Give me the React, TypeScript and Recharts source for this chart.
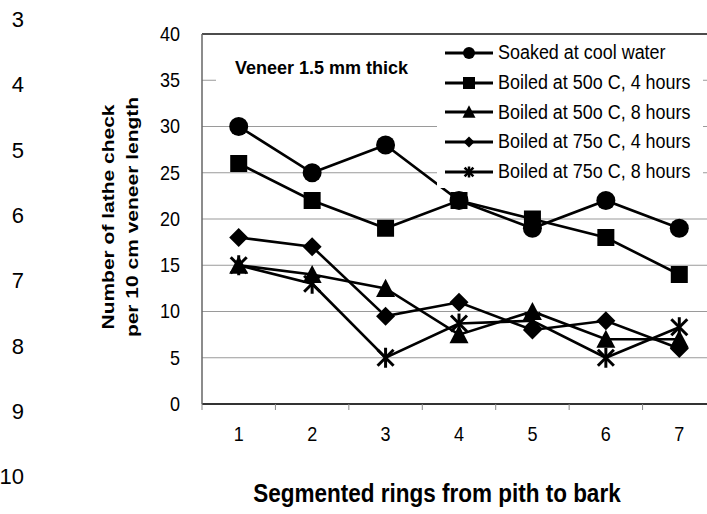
import React from "react";
import { LineChart, Line, XAxis, YAxis, CartesianGrid, Legend, ReferenceLine, Label } from "recharts";

const categories = [1, 2, 3, 4, 5, 6, 7];
const soaked = [30, 25, 28, 22, 19, 22, 19];
const boiled50h4 = [26, 22, 19, 22, 20, 18, 14];
const boiled50h8 = [15, 14, 12.5, 7.5, 10, 7, 7];
const boiled75h4 = [18, 17, 9.5, 11, 8, 9, 6];
const boiled75h8 = [15, 13, 5, 8.7, 9, 5, 8.3];
const yTicks = [0, 5, 10, 15, 20, 25, 30, 35, 40];
const boundaryTicks = [0.5, 1.5, 2.5, 3.5, 4.5, 5.5, 6.5, 7.5];
const lineNumbers = ["3", "4", "5", "6", "7", "8", "9", "10"];

const seriesNames = [
  "Soaked at cool water",
  "Boiled at 50o C, 4 hours",
  "Boiled at 50o C, 8 hours",
  "Boiled at 75o C, 4 hours",
  "Boiled at 75o C, 8 hours",
];
const seriesKeys = ["s1", "s2", "s3", "s4", "s5"];
const seriesShapes = ["circle", "square", "triangle", "diamond", "star"];
const seriesValues = [soaked, boiled50h4, boiled50h8, boiled75h4, boiled75h8];

const data = categories.map((c, i) => {
  const row: any = { x: c };
  seriesKeys.forEach((k, j) => (row[k] = seriesValues[j][i]));
  return row;
});

const allTicks = [...categories, ...boundaryTicks].sort((a, b) => a - b);

const FONT = "'Liberation Sans', Arial, sans-serif";

function Marker({ shape, cx, cy, s }: { shape: string; cx: number; cy: number; s: number }) {
  if (cx == null || cy == null) return null;
  switch (shape) {
    case "circle":
      return <circle cx={cx} cy={cy} r={s / 2} fill="#000" />;
    case "square":
      return <rect x={cx - s / 2} y={cy - s / 2} width={s} height={s} fill="#000" />;
    case "triangle": {
      const h = s * 0.9;
      return (
        <polygon
          points={`${cx},${cy - h / 2 - 1} ${cx - s / 2},${cy + h / 2} ${cx + s / 2},${cy + h / 2}`}
          fill="#000"
        />
      );
    }
    case "diamond":
      return (
        <polygon
          points={`${cx},${cy - s / 2} ${cx + s / 2},${cy} ${cx},${cy + s / 2} ${cx - s / 2},${cy}`}
          fill="#000"
        />
      );
    case "star": {
      const r = s / 2;
      const d = r * 0.8;
      return (
        <g stroke="#000" strokeWidth={s > 14 ? 3 : 2.5}>
          <line x1={cx} y1={cy - r} x2={cx} y2={cy + r} />
          <line x1={cx - d} y1={cy - d} x2={cx + d} y2={cy + d} />
          <line x1={cx - d} y1={cy + d} x2={cx + d} y2={cy - d} />
        </g>
      );
    }
  }
  return null;
}

const chartSizes: Record<string, number> = { circle: 19, square: 17, triangle: 19, diamond: 19, star: 20 };
const legendSizes: Record<string, number> = { circle: 12, square: 12, triangle: 13, diamond: 11, star: 11 };

function makeDot(shape: string) {
  return (props: any) => (
    <g key={`${shape}-${props.index}`}>
      <Marker shape={shape} cx={props.cx} cy={props.cy} s={chartSizes[shape]} />
    </g>
  );
}

function XTick(props: any) {
  const { x, y, payload } = props;
  const v = payload.value;
  if (Number.isInteger(v)) {
    return (
      <text
        transform={`translate(${x},${y + 37}) scale(0.9,1)`}
        textAnchor="middle"
        fontSize={20}
        fontFamily={FONT}
        fill="#000"
      >
        {v}
      </text>
    );
  }
  return <line x1={x} y1={y} x2={x} y2={y + 6} stroke="#888" strokeWidth={1} />;
}

function YTick(props: any) {
  const { x, y, payload } = props;
  return (
    <text
      transform={`translate(${x},${y}) scale(0.9,1)`}
      textAnchor="end"
      dominantBaseline="central"
      fontSize={20}
      fontFamily={FONT}
      fill="#000"
    >
      {payload.value}
    </text>
  );
}

function LegendContent() {
  return (
    <div style={{ background: "#fff", width: 266, height: 150, paddingTop: 1 }}>
      {seriesNames.map((name, i) => (
        <div key={name} style={{ display: "flex", alignItems: "center", height: 29.7 }}>
          <svg width={61} height={24} style={{ flex: "none" }}>
            <line x1={8} y1={12} x2={56} y2={12} stroke="#000" strokeWidth={3} />
            <Marker shape={seriesShapes[i]} cx={32} cy={12} s={legendSizes[seriesShapes[i]]} />
          </svg>
          <span
            style={{
              fontFamily: FONT,
              fontSize: 19.5,
              color: "#000",
              whiteSpace: "nowrap",
              display: "inline-block",
              transform: "scaleX(0.92)",
              transformOrigin: "left center",
            }}
          >
            {name}
          </span>
        </div>
      ))}
    </div>
  );
}

function YTitle() {
  return (
    <g fontFamily={FONT} fontWeight="bold" fontSize={21} fill="#000">
      <text transform="translate(108,217) scale(0.82,1) rotate(-90)" textAnchor="middle" dominantBaseline="central">
        Number of lathe check
      </text>
      <text transform="translate(132,217) scale(0.82,1) rotate(-90)" textAnchor="middle" dominantBaseline="central">
        per 10 cm veneer length
      </text>
    </g>
  );
}

function XTitle() {
  return (
    <text
      transform="translate(437,493) scale(0.9,1)"
      textAnchor="middle"
      dominantBaseline="central"
      fontFamily={FONT}
      fontWeight="bold"
      fontSize={25}
      fill="#000"
    >
      Segmented rings from pith to bark
    </text>
  );
}

export default function App() {
  return (
    <div
      style={{
        position: "absolute",
        left: 0,
        top: 0,
        width: 707,
        height: 514,
        overflow: "hidden",
        background: "#fff",
        fontFamily: FONT,
      }}
    >
      {lineNumbers.map((n, i) => (
        <div
          key={n}
          style={{
            position: "absolute",
            right: 707 - 24,
            top: 20 + i * 65.3 - 13,
            fontSize: 22,
            lineHeight: "26px",
            fontFamily: FONT,
            color: "#000",
          }}
        >
          {n}
        </div>
      ))}
      <LineChart
        width={726}
        height={514}
        data={data}
        margin={{ top: 34, right: 10, bottom: 70, left: 142 }}
        style={{ position: "absolute", left: 0, top: 0 }}
      >
        <CartesianGrid vertical={false} stroke="#9a9a9a" strokeWidth={1.2} />
        <XAxis
          dataKey="x"
          type="number"
          domain={[0.5, 7.5]}
          ticks={allTicks}
          interval={0}
          tickLine={false}
          tickSize={0}
          tickMargin={0}
          height={40}
          axisLine={{ stroke: "#333", strokeWidth: 2 }}
          tick={<XTick />}
        >
          <Label content={<XTitle />} />
        </XAxis>
        <YAxis
          domain={[0, 40]}
          ticks={yTicks}
          interval={0}
          width={60}
          tickLine={false}
          tickSize={0}
          tickMargin={22}
          axisLine={{ stroke: "#666", strokeWidth: 1.5 }}
          tick={<YTick />}
        >
          <Label content={<YTitle />} />
        </YAxis>
        <ReferenceLine y={40} stroke="#222" strokeWidth={1.5} />
        {seriesKeys.map((k, i) => (
          <Line
            key={k}
            dataKey={k}
            name={seriesNames[i]}
            stroke="#000"
            strokeWidth={2.6}
            dot={makeDot(seriesShapes[i])}
            activeDot={false}
            isAnimationActive={false}
          />
        ))}
        <Legend
          layout="horizontal"
          verticalAlign="middle"
          align="center"
          content={<LegendContent />}
          wrapperStyle={{ left: 437, top: 37, width: 266, height: 150 }}
        />
      </LineChart>
      <div
        style={{
          position: "absolute",
          left: 216,
          top: 42,
          width: 221,
          height: 58,
          background: "#fff",
        }}
      >
        <div
          style={{
            position: "absolute",
            left: 19,
            top: 15,
            fontFamily: FONT,
            fontWeight: "bold",
            fontSize: 18,
            lineHeight: "22px",
            whiteSpace: "nowrap",
            color: "#000",
          }}
        >
          Veneer 1.5 mm thick
        </div>
      </div>
    </div>
  );
}
